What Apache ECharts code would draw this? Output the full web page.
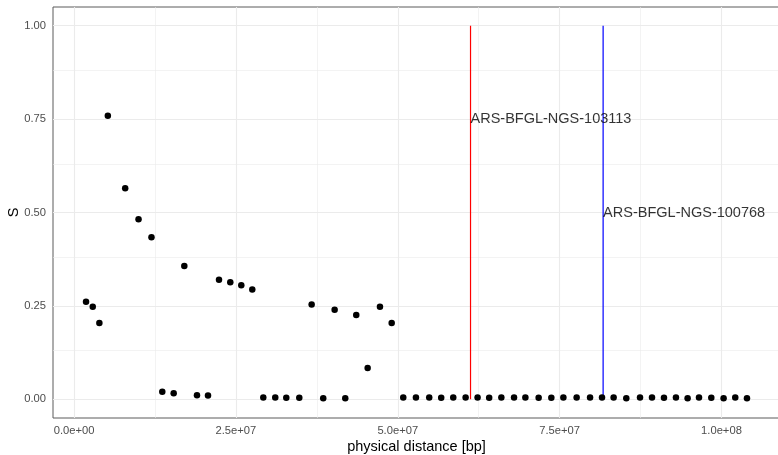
<!DOCTYPE html>
<html>
<head>
<meta charset="utf-8">
<script src="https://cdn.jsdelivr.net/npm/echarts@6/dist/echarts.min.js"></script>
<style>
  html, body { margin: 0; padding: 0; background: #fff; }
  #chart { width: 778px; height: 455px; }
</style>
</head>
<body>
<div id="chart"></div>
<script>
// physical position (bp) and S value of each SNP
const positions = [
  1.85e6, 2.89e6, 3.91e6, 5.22e6, 7.90e6, 9.96e6, 11.96e6, 13.63e6, 15.39e6, 17.03e6,
  18.99e6, 20.69e6, 22.39e6, 24.13e6, 25.83e6, 27.53e6, 29.23e6, 31.08e6, 32.78e6, 34.79e6,
  36.70e6, 38.49e6, 40.25e6, 41.89e6, 43.59e6, 45.35e6, 47.25e6, 49.06e6, 50.85e6, 52.81e6,
  54.86e6, 56.71e6, 58.57e6, 60.48e6, 62.33e6, 64.12e6, 66.00e6, 67.96e6, 69.71e6, 71.76e6,
  73.72e6, 75.58e6, 77.63e6, 79.70e6, 81.55e6, 83.34e6, 85.30e6, 87.42e6, 89.27e6, 91.12e6,
  92.97e6, 94.77e6, 96.53e6, 98.43e6, 100.33e6, 102.13e6, 103.94e6
];
const sValues = [
  0.261, 0.248, 0.204, 0.759, 0.565, 0.482, 0.434, 0.020, 0.016, 0.357,
  0.011, 0.010, 0.320, 0.313, 0.305, 0.294, 0.005, 0.005, 0.004, 0.004,
  0.254, 0.003, 0.240, 0.003, 0.226, 0.084, 0.248, 0.204, 0.005, 0.005,
  0.005, 0.004, 0.005, 0.005, 0.005, 0.004, 0.005, 0.005, 0.005, 0.004,
  0.004, 0.005, 0.005, 0.005, 0.005, 0.005, 0.003, 0.005, 0.005, 0.004,
  0.005, 0.003, 0.005, 0.004, 0.003, 0.005, 0.003
];

// highlighted markers (vertical segments from 0 to 1)
const markerNames = ['ARS-BFGL-NGS-103113', 'ARS-BFGL-NGS-100768'];
const markerPositions = [61.24e6, 81.72e6];
const markerLabelS = [0.75, 0.5];

// axis ticks
const xTicks = [0, 2.5e7, 5e7, 7.5e7, 1e8];
const xTickLabels = ['0.0e+00', '2.5e+07', '5.0e+07', '7.5e+07', '1.0e+08'];
const xMinor = [1.25e7, 3.75e7, 6.25e7, 8.75e7];
const yTicks = [0, 0.25, 0.5, 0.75, 1];
const yTickLabels = ['0.00', '0.25', '0.50', '0.75', '1.00'];
const yMinor = [0.125, 0.375, 0.625, 0.875];

const font = 'Liberation Sans, Arial, Helvetica, sans-serif';
const markerColors = ['#ff0000', '#0000ff'];

const chart = echarts.init(document.getElementById('chart'), null, { renderer: 'canvas' });

const gridLines = [
  ...xMinor.map(v => ({ xAxis: v, lineStyle: { width: 0.6 } })),
  ...yMinor.map(v => ({ yAxis: v, lineStyle: { width: 0.6 } })),
  ...xTicks.map(v => ({ xAxis: v, lineStyle: { width: 1.1 } })),
  ...yTicks.map(v => ({ yAxis: v, lineStyle: { width: 1.1 } }))
];

const option = {
  animation: false,
  backgroundColor: '#fff',
  textStyle: { fontFamily: font },
  grid: {
    left: 53, right: -2, top: 7, bottom: 37,
    outerBoundsMode: 'none',
    containLabel: false,
    show: true, backgroundColor: '#fff', borderColor: '#5a5a5a', borderWidth: 1
  },
  xAxis: {
    type: 'value',
    min: -3.25e6,
    max: 109.04e6,
    axisLine: { show: false },
    splitLine: { show: false },
    axisTick: { show: true, customValues: xTicks, length: 4, lineStyle: { color: '#333' } },
    axisLabel: {
      customValues: xTicks,
      formatter: v => xTickLabels[xTicks.indexOf(v)],
      color: '#4d4d4d', fontSize: 11.2, margin: 7, fontFamily: font
    },
    name: 'physical distance [bp]',
    nameLocation: 'middle',
    nameGap: 21,
    nameMoveOverlap: false,
    nameTextStyle: { color: '#000', fontSize: 14.5, fontFamily: font }
  },
  yAxis: {
    type: 'value',
    min: -0.05,
    max: 1.05,
    axisLine: { show: false },
    splitLine: { show: false },
    axisTick: { show: true, customValues: yTicks, length: 4, lineStyle: { color: '#333' } },
    axisLabel: {
      customValues: yTicks,
      formatter: v => yTickLabels[yTicks.indexOf(v)],
      color: '#4d4d4d', fontSize: 11.2, margin: 7, fontFamily: font
    },
    name: 'S',
    nameLocation: 'middle',
    nameGap: 32,
    nameMoveOverlap: false,
    nameTextStyle: { color: '#000', fontSize: 14.5, fontFamily: font }
  },
  series: [
    {
      type: 'line',
      data: [],
      z: 1,
      silent: true,
      markLine: {
        silent: true,
        symbol: ['none', 'none'],
        label: { show: false },
        lineStyle: { color: '#ebebeb', type: 'solid' },
        z: 1,
        data: gridLines
      }
    },
    ...markerPositions.map((p, i) => ({
      type: 'line',
      data: [[p, 0], [p, 1]],
      symbol: 'none',
      z: 3,
      lineStyle: { color: markerColors[i], width: 1.2 }
    })),
    {
      type: 'scatter',
      data: markerNames.map((n, i) => ({ name: n, value: [markerPositions[i], markerLabelS[i]] })),
      symbolSize: 0,
      z: 4,
      label: {
        show: true,
        position: 'right',
        distance: 0,
        formatter: p => p.name,
        color: '#000',
        fontSize: 14.5,
        fontFamily: font
      }
    },
    {
      type: 'scatter',
      data: positions.map((x, i) => [x, sValues[i]]),
      symbolSize: 6.5,
      z: 5,
      itemStyle: { color: '#000', opacity: 1 }
    }
  ]
};

chart.setOption(option);
</script>
</body>
</html>
